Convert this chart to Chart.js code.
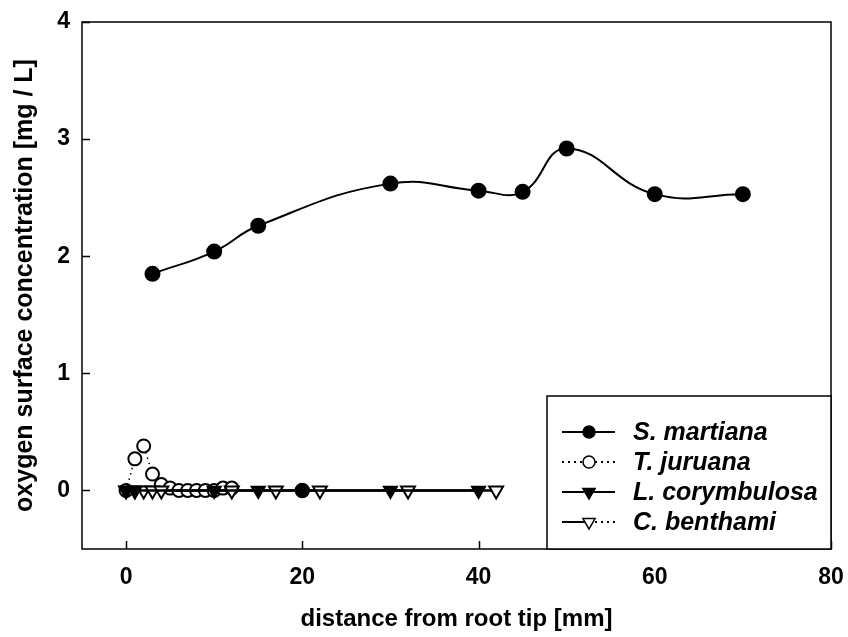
<!DOCTYPE html>
<html>
<head>
<meta charset="utf-8">
<script src="https://cdn.jsdelivr.net/npm/chart.js@4.4.1/dist/chart.umd.min.js"></script>
<style>
  html, body { margin: 0; padding: 0; background: #fff; }
  #wrap { width: 848px; height: 637px; }
</style>
</head>
<body>
<div id="wrap"><canvas id="oxyChart"></canvas></div>
<script>
// axis ticks
const xTicks = [0, 20, 40, 60, 80];
const yTicks = [0, 1, 2, 3, 4];

// series
const seriesNames = ['S. martiana', 'T. juruana', 'L. corymbulosa', 'C. benthami'];
const martianaX = [3, 10, 15, 30, 40, 45, 50, 60, 70];
const martianaY = [1.85, 2.04, 2.26, 2.62, 2.56, 2.55, 2.92, 2.53, 2.53];
const juruanaX = [0, 1, 2, 3, 4, 5, 6, 7, 8, 9, 10, 11, 12];
const juruanaY = [0, 0.27, 0.38, 0.14, 0.05, 0.02, 0, 0, 0, 0, 0, 0.02, 0.02];
const corymbulosaX = [0, 1, 10, 15, 20, 30, 40];
const corymbulosaY = [0, 0, 0, 0, 0, 0, 0];
const benthamiX = [0, 1, 2, 3, 4, 12, 17, 22, 32, 42];
const benthamiY = [0, 0, 0, 0, 0, 0, 0, 0, 0, 0];

const FONT = "'Liberation Sans', Arial, sans-serif";
const toPoints = (xs, ys) => xs.map((x, i) => ({ x: x, y: ys[i] }));

// frame + inward tick marks
const framePlugin = {
    id: 'frame',
    afterDatasetsDraw(chart) {
        const { ctx, chartArea: a, scales } = chart;
        ctx.save();
        ctx.strokeStyle = '#000';
        ctx.lineWidth = 1.5;
        ctx.strokeRect(a.left, a.top, a.right - a.left, a.bottom - a.top);
        ctx.beginPath();
        xTicks.forEach(v => {
            const px = Math.round(scales.x.getPixelForValue(v)) + 0.5;
            ctx.moveTo(px, a.bottom);
            ctx.lineTo(px, a.bottom - 8);
        });
        yTicks.forEach(v => {
            const py = Math.round(scales.y.getPixelForValue(v)) + 0.5;
            ctx.moveTo(a.left, py);
            ctx.lineTo(a.left + 8, py);
        });
        ctx.stroke();
        ctx.restore();
    }
};

// boxed legend in the lower right corner
const legendPlugin = {
    id: 'boxLegend',
    afterDraw(chart) {
        const { ctx, chartArea: a } = chart;
        const w = 284, h = 153;
        const left = a.right - w, top = a.bottom - h;
        ctx.save();
        ctx.fillStyle = '#fff';
        ctx.fillRect(left, top, w, h);
        ctx.strokeStyle = '#000';
        ctx.lineWidth = 1.5;
        ctx.strokeRect(left, top, w, h);

        chart.data.datasets.forEach((ds, i) => {
            const y = top + 36 + i * 30;
            const x0 = left + 15, x1 = left + 68, xm = left + 42;
            ctx.strokeStyle = '#000';
            ctx.lineWidth = 2;
            ctx.setLineDash(ds.legendLeftDash || []);
            ctx.beginPath();
            ctx.moveTo(x0, y);
            ctx.lineTo(xm, y);
            ctx.stroke();
            ctx.setLineDash(ds.legendRightDash || []);
            ctx.beginPath();
            ctx.moveTo(xm, y);
            ctx.lineTo(x1, y);
            ctx.stroke();
            ctx.setLineDash([]);

            const style = Array.isArray(ds.pointStyle) ? ds.pointStyle[0] : ds.pointStyle;
            ctx.fillStyle = ds.pointBackgroundColor;
            ctx.strokeStyle = '#000';
            ctx.lineWidth = 1.5;
            Chart.helpers.drawPoint(ctx, {
                pointStyle: style,
                rotation: ds.pointRotation || 0,
                radius: style === 'triangle' ? 7 : 6,
                borderWidth: 1.5
            }, xm, y);

            ctx.fillStyle = '#000';
            ctx.font = 'italic bold 25px ' + FONT;
            ctx.textBaseline = 'middle';
            ctx.textAlign = 'left';
            ctx.fillText(ds.label, left + 86, y + 1);
        });
        ctx.restore();
    }
};

new Chart(document.getElementById('oxyChart'), {
    type: 'scatter',
    data: {
        datasets: [
            {
                label: seriesNames[0],
                data: toPoints(martianaX, martianaY),
                showLine: true,
                tension: 0.45,
                borderColor: '#000',
                borderWidth: 2,
                pointStyle: 'circle',
                pointRadius: 7,
                pointBackgroundColor: '#000',
                pointBorderColor: '#000',
                order: 4
            },
            {
                label: seriesNames[1],
                data: toPoints(juruanaX, juruanaY),
                showLine: true,
                tension: 0,
                borderColor: '#000',
                borderWidth: 1.5,
                borderDash: [1.5, 4],
                pointStyle: 'circle',
                pointRadius: 6.5,
                pointBorderWidth: 2,
                pointBackgroundColor: '#fff',
                pointBorderColor: '#000',
                legendLeftDash: [2, 4],
                legendRightDash: [2, 4],
                order: 3
            },
            {
                label: seriesNames[2],
                data: toPoints(corymbulosaX, corymbulosaY),
                showLine: true,
                tension: 0,
                borderColor: '#000',
                borderWidth: 2.5,
                pointStyle: corymbulosaX.map(x => x === 20 ? 'circle' : 'triangle'),
                pointRadius: corymbulosaX.map(x => x === 20 ? 7 : 8),
                pointRotation: 180,
                pointBorderWidth: 1.5,
                pointBackgroundColor: '#000',
                pointBorderColor: '#000',
                order: 1
            },
            {
                label: seriesNames[3],
                data: toPoints(benthamiX, benthamiY),
                showLine: true,
                tension: 0,
                borderColor: '#000',
                borderWidth: 2.5,
                pointStyle: 'triangle',
                pointRotation: 180,
                pointRadius: 8,
                pointBorderWidth: 2,
                pointBackgroundColor: '#fff',
                pointBorderColor: '#000',
                legendRightDash: [2, 4],
                order: 2
            }
        ]
    },
    options: {
        responsive: true,
        maintainAspectRatio: false,
        animation: false,
        layout: { padding: { top: 22, right: 17, left: 0, bottom: 0 } },
        plugins: {
            legend: { display: false },
            tooltip: { enabled: false }
        },
        scales: {
            x: {
                type: 'linear',
                min: -5,
                max: 80,
                afterBuildTicks: s => { s.ticks = xTicks.map(v => ({ value: v })); },
                afterFit: s => {
                    s.height = 88;
                    s.paddingLeft = 0;
                    s.paddingRight = 0;
                },
                grid: { display: false, drawTicks: false },
                border: { display: false },
                ticks: {
                    color: '#000',
                    padding: 15,
                    maxRotation: 0,
                    font: { family: FONT, size: 23, weight: 'bold' }
                },
                title: {
                    display: true,
                    text: 'distance from root tip [mm]',
                    color: '#000',
                    padding: { top: 0, bottom: 3 },
                    font: { family: FONT, size: 24, weight: 'bold' }
                }
            },
            y: {
                type: 'linear',
                min: -0.5,
                max: 4,
                afterBuildTicks: s => { s.ticks = yTicks.map(v => ({ value: v })); },
                afterFit: s => {
                    s.width = 82;
                    s.paddingTop = 0;
                    s.paddingBottom = 0;
                },
                grid: { display: false, drawTicks: false },
                border: { display: false },
                ticks: {
                    color: '#000',
                    padding: 12,
                    font: { family: FONT, size: 23, weight: 'bold' }
                },
                title: {
                    display: true,
                    text: 'oxygen surface concentration [mg / L]',
                    color: '#000',
                    padding: { top: 10, bottom: 0 },
                    font: { family: FONT, size: 25, weight: 'bold' }
                }
            }
        }
    },
    plugins: [framePlugin, legendPlugin]
});
</script>
</body>
</html>
